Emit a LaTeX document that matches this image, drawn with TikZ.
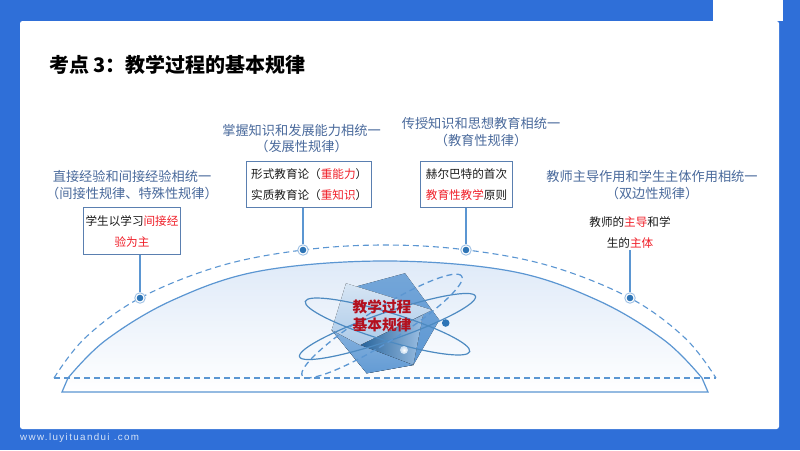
\documentclass[tikz,border=0pt]{standalone}
\usepackage{fontspec}
\setmainfont{Noto Sans CJK SC}
\newfontfamily\footfont[LetterSpace=14]{Liberation Sans}
\usetikzlibrary{shadings}
\definecolor{bgblue}{HTML}{2F6FD8}
\definecolor{headblue}{HTML}{4A6A9C}
\definecolor{lineblue}{HTML}{5B96D2}
\definecolor{dotblue}{HTML}{2E75B6}
\definecolor{boxline}{HTML}{5A7FB0}
\definecolor{hot}{HTML}{F01E28}
\definecolor{txt}{HTML}{1A1A1A}
\definecolor{corered}{HTML}{B4101E}
\definecolor{domefill}{HTML}{DFEAF8}
\newcommand{\hl}[1]{\textcolor{hot}{#1}}
\tikzset{
  heading/.style={font=\fontsize{13.2}{16.2}\selectfont,text=headblue,align=center,inner sep=0pt},
  infobox/.style={draw=boxline,line width=1pt,fill=white,align=center,inner sep=0pt,text=txt,
     font=\fontsize{11.6}{21}\selectfont},
  plaintext/.style={align=center,inner sep=0pt,text=txt,font=\fontsize{11.6}{21}\selectfont},
  dotnode/.style={circle,draw=lineblue!60,line width=.9pt,fill=white,minimum size=10.5pt,inner sep=0pt,
     path picture={\fill[dotblue] (path picture bounding box.center) circle (3.3pt);}},
  stem/.style={draw=lineblue,line width=1.2pt},
  dashline/.style={draw=lineblue,line width=1.1pt,dash pattern=on 6pt off 4pt},
  orbit/.style={draw=dotblue!85!white,line width=1.2pt},
  orbitdash/.style={draw=lineblue,line width=1.3pt,dash pattern=on 6pt off 4pt},
}
\begin{document}
\begin{tikzpicture}[x=1pt,y=-1pt]
\useasboundingbox (0,0) rectangle (800,450);
\fill[bgblue] (0,0) rectangle (800,450);
\fill[white] (713,0) rectangle (783,21);
\fill[white,rounded corners=2.5pt] (20,21) rectangle (779,429);

\node[anchor=west,inner sep=0pt,font=\fontsize{20}{22}\bfseries\selectfont,text=black] (title) at (49,65) {考点 3：教学过程的基本规律};

% dome
\path[top color=domefill,bottom color=white]
  plot[smooth,tension=.6] coordinates {(68,378) (106,340) (173,300) (260,271) (385,261) (510,271) (597,300) (664,340) (702,378)} -- (708,392) -- (62,392) -- cycle;
\draw[lineblue,line width=1.2pt,line join=miter]
  plot[smooth,tension=.6] coordinates {(68,378) (106,340) (173,300) (260,271) (385,261) (510,271) (597,300) (664,340) (702,378)} -- (708,392) -- (62,392) -- cycle;
\draw[dashline] plot[smooth,tension=.6] coordinates {(54,378) (85,338) (140,298) (220,266) (303,250) (385,245) (467,250) (550,266) (630,298) (685,338) (716,378)};
\draw[dashline] (54,378) -- (716,378);

% crystal
\fill[top color=lineblue!85!white,bottom color=lineblue] (358,286) -- (405,273.3) -- (439.3,320) -- (413.3,365) -- (366.7,373.3) -- (331.7,330) -- cycle;
\fill[left color=dotblue!85!black,right color=lineblue!60!white] (360,345) -- (423,315) -- (413.3,365) -- cycle;
\fill[top color=lineblue!75!white,bottom color=lineblue!95!white] (360,345) -- (413.3,365) -- (366.7,373.3) -- (331.7,330) -- cycle;
\fill[top color=lineblue!25!white,bottom color=lineblue!50!white] (346,283.3) -- (432,310) -- (360,345) -- (331.7,330) -- cycle;
\draw[orbit,shift={(387.5,326.5)},rotate=-17] (0,0) ellipse [x radius=86pt,y radius=14pt];
\draw[orbit,shift={(387.5,326.5)},rotate=19] (0,0) ellipse [x radius=93pt,y radius=14pt];
\draw[orbitdash,shift={(382,326)},rotate=32] (0,0) ellipse [x radius=94pt,y radius=17pt];
\fill[dotblue] (445.7,323) circle (3.8pt);
\shade[inner color=white,outer color=lineblue!35!white] (404,350) circle (4pt);
\node[inner sep=0pt,align=center,text=corered,font=\fontsize{14.7}{18}\bfseries\selectfont] (core) at (382,316) {教学过程\\基本规律};

% dots
\node[dotnode] (d1) at (140,298) {};
\node[dotnode] (d2) at (303,250) {};
\node[dotnode] (d3) at (466,250) {};
\node[dotnode] (d4) at (630,298) {};

% boxes
\node[infobox,minimum width=97.4pt,minimum height=46.6pt] (b1) at (132,231) {学生以学习\hl{间接经}\\\hl{验为主}};
\node[infobox,minimum width=125pt,minimum height=46.4pt] (b2) at (309.2,184.5) {形式教育论（\hl{重能力}）\\实质教育论（\hl{重知识}）};
\node[infobox,minimum width=91.6pt,minimum height=46.4pt] (b3) at (466.5,184.5) {赫尔巴特的首次\\\hl{教育性教学}原则};
\node[plaintext] (b4) at (630,232.3) {教师的\hl{主导}和学\\生的\hl{主体}};
\coordinate (b4s) at (630,250);

\draw[stem] (b1.south -| d1) -- (d1);
\draw[stem] (b2.south -| d2) -- (d2);
\draw[stem] (b3.south -| d3) -- (d3);
\draw[stem] (b4s) -- (d4);

% headings
\node[heading] (h1) at (132,185) {直接经验和间接经验相统一\\（间接性规律、特殊性规律）};
\node[heading] (h2) at (301.5,138.5) {掌握知识和发展能力相统一\\（发展性规律）};
\node[heading] (h3) at (481,132) {传授知识和思想教育相统一\\（教育性规律）};
\node[heading] (h4) at (652,185) {教师主导作用和学生主体作用相统一\\（双边性规律）};

\node[anchor=west,inner sep=0pt,text=white!80!bgblue,font=\footfont\fontsize{9.8}{11}\selectfont] (foot) at (20,438) {www.luyituandui .com};
\end{tikzpicture}
\end{document}
